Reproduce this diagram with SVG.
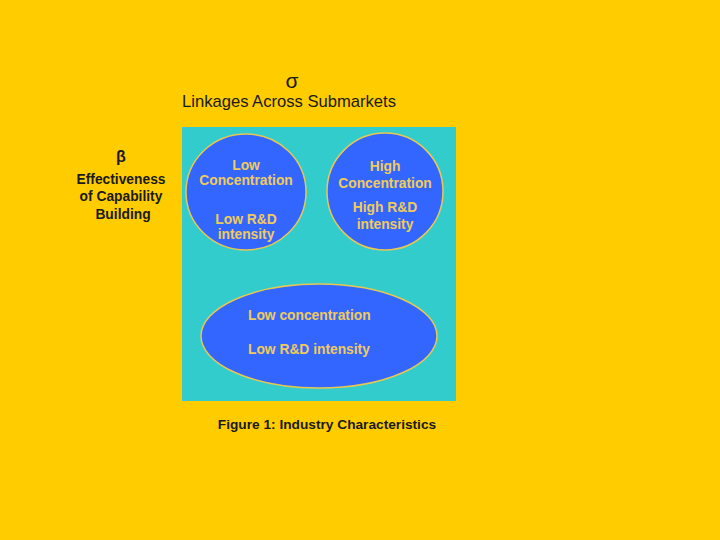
<svg xmlns="http://www.w3.org/2000/svg" width="720" height="540" viewBox="0 0 720 540">
<style>
.t{font-family:"Liberation Sans",Arial,sans-serif;text-anchor:middle}
.d{fill:#1a1a1a}
.b{font-weight:bold}
.c{fill:#EFCB5A;font-weight:bold;font-size:13.8px;font-family:"Liberation Sans",Arial,sans-serif}
.n{fill:#3366FF;stroke:#E8C850;stroke-width:1.5}
</style>
<rect width="720" height="540" fill="#FFCC00"/>
<g id="title">
<text class="t d" x="292" y="88" font-size="21">σ</text>
<text class="t d" x="289" y="107" font-size="16.6">Linkages Across Submarkets</text>
</g>
<g id="beta-label">
<text class="t d b" x="121" y="162" font-size="16">β</text>
<text class="t d b" x="121" y="184" font-size="13.8">Effectiveness</text>
<text class="t d b" x="121" y="201" font-size="13.8">of Capability</text>
<text class="t d b" x="123" y="219" font-size="13.8">Building</text>
</g>
<g id="panel">
<rect x="182" y="127" width="274" height="274" fill="#33CCCC"/>
</g>
<g id="node-low-low">
<ellipse class="n" cx="246" cy="192" rx="60" ry="58"/>
<text class="t c" x="246" y="170" font-size="13.5">Low</text>
<text class="t c" x="246" y="184.5" font-size="13.5">Concentration</text>
<text class="t c" x="246" y="224" font-size="13.5">Low R&amp;D</text>
<text class="t c" x="246" y="238.5" font-size="13.5">intensity</text>
</g>
<g id="node-high-high">
<ellipse class="n" cx="385" cy="191.5" rx="58" ry="58.5"/>
<text class="t c" x="385" y="171">High</text>
<text class="t c" x="385" y="188">Concentration</text>
<text class="t c" x="385" y="212">High R&amp;D</text>
<text class="t c" x="385" y="229">intensity</text>
</g>
<g id="node-ellipse">
<ellipse class="n" cx="319" cy="336" rx="118" ry="52"/>
<text class="c" x="248" y="320">Low concentration</text>
<text class="c" x="248" y="354">Low R&amp;D intensity</text>
</g>
<g id="connectors"/>
<g id="caption">
<text class="t d b" x="327" y="429" font-size="13.7">Figure 1: Industry Characteristics</text>
</g>
</svg>
